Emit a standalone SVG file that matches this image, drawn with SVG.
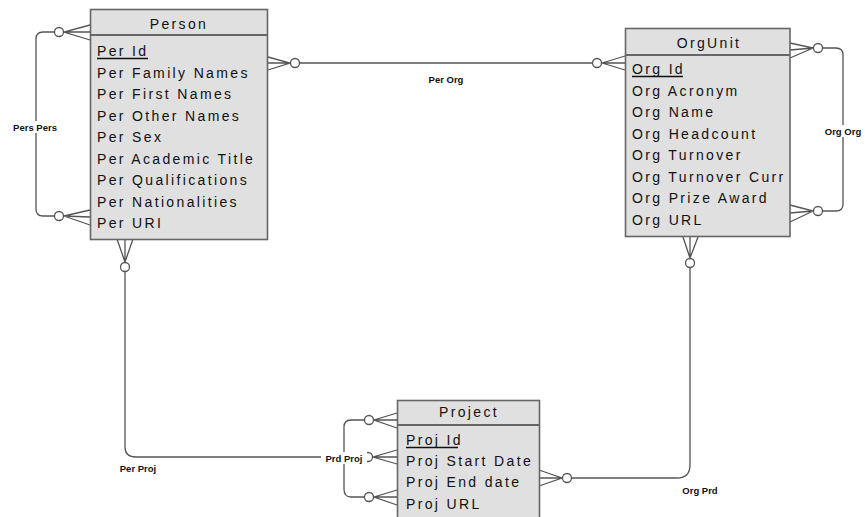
<svg xmlns="http://www.w3.org/2000/svg" width="865" height="517" viewBox="0 0 865 517">
<style>
.box{fill:#e0e0e0;stroke:#666;stroke-width:1.6}
.hdr{stroke:#666;stroke-width:2}
.t{font-family:"Liberation Sans",Arial,sans-serif;font-size:14px;letter-spacing:2.35px;fill:#111}
.h{text-anchor:middle}
.ul{stroke:#111;stroke-width:1.3}
.c{fill:none;stroke:#555;stroke-width:1.3}
.o{fill:#fff;stroke:#555;stroke-width:1.3}
.lb{font-family:"Liberation Sans",Arial,sans-serif;font-size:9.5px;font-weight:bold;fill:#111;text-anchor:middle}
</style>
<rect width="865" height="517" fill="#fff"/>
<g id="connectors">
  <g id="per-org">
    <path class="c" d="M268,57 L290,63 L268,70 M268,63 L290,63 M300,63 L592,63 M602,63 L625,56 M602,63 L625,70 M602,63 L625,63"/>
    <circle class="o" cx="295" cy="63" r="4.5"/>
    <circle class="o" cx="597" cy="63" r="4.5"/>
    <text class="lb" x="446" y="83">Per Org</text>
  </g>
  <g id="pers-pers">
    <path class="c" d="M90,25 L64,32 L90,40 M90,32 L64,32 M54,32 L43,32 Q36,32 36,39 L36,209 Q36,216 43,216 L54,216 M90,210 L64,216 L90,225 M90,217 L64,216"/>
    <circle class="o" cx="59" cy="32" r="4.5"/>
    <circle class="o" cx="59" cy="216" r="4.5"/>
    <rect x="8" y="121" width="56" height="12" fill="#fff"/>
    <text class="lb" x="35" y="131">Pers Pers</text>
  </g>
  <g id="org-org">
    <path class="c" d="M790,43 L813,48 L790,58 M790,50 L813,48 M823,48 L836,48 Q843,48 843,55 L843,204 Q843,211 836,211 L823,211 M790,205 L813,211 L790,222 M790,213 L813,211"/>
    <circle class="o" cx="818" cy="48" r="4.5"/>
    <circle class="o" cx="818" cy="211" r="4.5"/>
    <rect x="820" y="125" width="45" height="12" fill="#fff"/>
    <text class="lb" x="843" y="135">Org Org</text>
  </g>
  <g id="per-proj">
    <path class="c" d="M117,239 L125,262 L133,239 M125,239 L125,262 M125,272 L125,447 Q125,457 136,457 L363,457 M397,450 L373,457 L397,464 M397,457 L373,457"/>
    <circle class="o" cx="125" cy="267" r="4.5"/>
    <circle class="o" cx="368" cy="457" r="4.5"/>
    <text class="lb" x="138" y="472">Per Proj</text>
  </g>
  <g id="prd-proj">
    <path class="c" d="M397,413 L374,420 L397,428 M397,420 L374,420 M364,420 L351,420 Q344,420 344,427 L344,489 Q344,497 351,497 L364,497 M397,490 L374,497 L397,505 M397,497 L374,497"/>
    <circle class="o" cx="369" cy="420" r="4.5"/>
    <circle class="o" cx="369" cy="497" r="4.5"/>
    <rect x="321" y="452" width="46" height="12" fill="#fff"/>
    <text class="lb" x="344" y="462">Prd Proj</text>
  </g>
  <g id="org-prd">
    <path class="c" d="M683,237 L690,258 L698,237 M690,237 L690,258 M690,268 L690,465 Q690,478 677,478 L572,478 M539,470 L562,478 L539,486 M539,478 L562,478"/>
    <circle class="o" cx="690" cy="263" r="4.5"/>
    <circle class="o" cx="567" cy="478" r="4.5"/>
    <text class="lb" x="700" y="494">Org Prd</text>
  </g>
</g>
<g id="Person">
  <rect class="box" x="90.5" y="9.5" width="177" height="230"/>
  <line class="hdr" x1="90.5" y1="35" x2="267.5" y2="35"/>
  <text class="t h" x="179" y="29">Person</text>
  <text class="t" x="97" y="56">Per Id</text>
  <line class="ul" x1="97" y1="58.5" x2="148" y2="58.5"/>
  <text class="t" x="97" y="77.5">Per Family Names</text>
  <text class="t" x="97" y="99">Per First Names</text>
  <text class="t" x="97" y="120.5">Per Other Names</text>
  <text class="t" x="97" y="142">Per Sex</text>
  <text class="t" x="97" y="163.5">Per Academic Title</text>
  <text class="t" x="97" y="185">Per Qualifications</text>
  <text class="t" x="97" y="206.5">Per Nationalities</text>
  <text class="t" x="97" y="228">Per URI</text>
</g>
<g id="OrgUnit">
  <rect class="box" x="625.5" y="28.5" width="164.5" height="208"/>
  <line class="hdr" x1="625.5" y1="55" x2="790" y2="55"/>
  <text class="t h" x="709" y="48">OrgUnit</text>
  <text class="t" x="632" y="74">Org Id</text>
  <line class="ul" x1="632" y1="76.5" x2="683" y2="76.5"/>
  <text class="t" x="632" y="95.5">Org Acronym</text>
  <text class="t" x="632" y="117">Org Name</text>
  <text class="t" x="632" y="138.5">Org Headcount</text>
  <text class="t" x="632" y="160">Org Turnover</text>
  <text class="t" x="632" y="181.5">Org Turnover Curr</text>
  <text class="t" x="632" y="203">Org Prize Award</text>
  <text class="t" x="632" y="224.5">Org URL</text>
</g>
<g id="Project">
  <rect class="box" x="397.5" y="400.5" width="142" height="130"/>
  <line class="hdr" x1="397.5" y1="425" x2="539.5" y2="425"/>
  <text class="t h" x="469" y="417">Project</text>
  <text class="t" x="406" y="445">Proj Id</text>
  <line class="ul" x1="406" y1="447.5" x2="458" y2="447.5"/>
  <text class="t" x="406" y="466">Proj Start Date</text>
  <text class="t" x="406" y="487">Proj End date</text>
  <text class="t" x="406" y="508.5">Proj URL</text>
</g>
</svg>
